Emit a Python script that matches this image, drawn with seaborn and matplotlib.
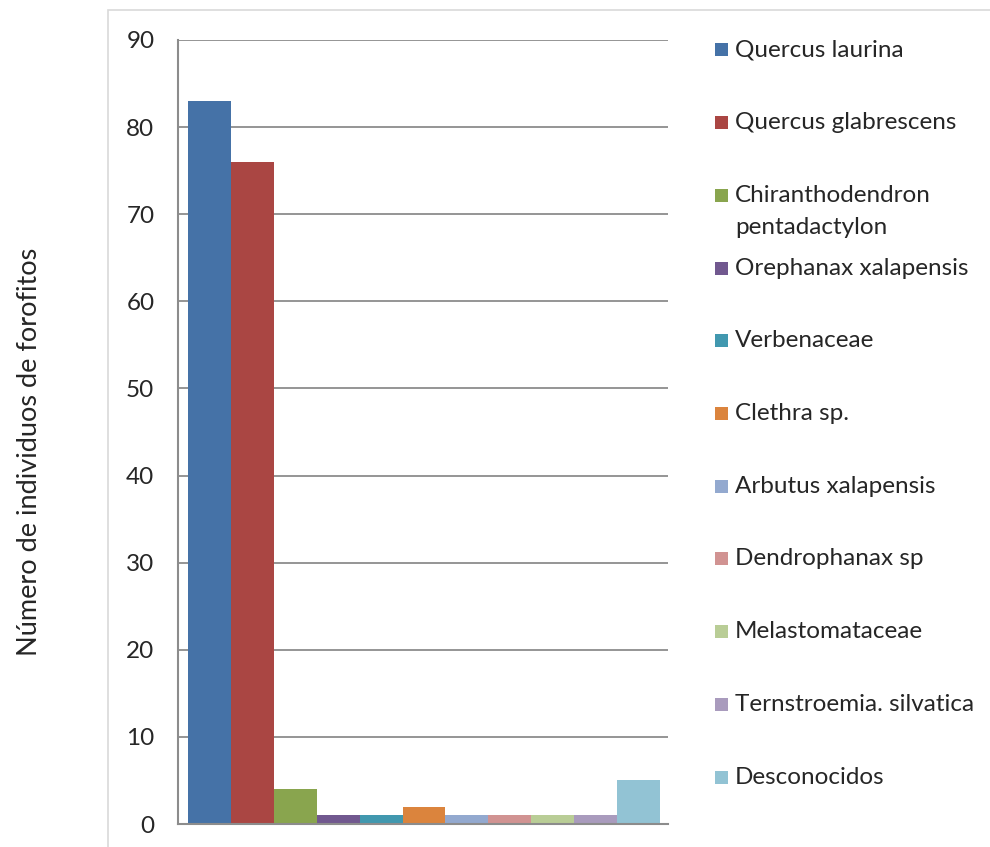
import matplotlib
matplotlib.use("Agg")
import matplotlib.pyplot as plt
from matplotlib.patches import Rectangle
import seaborn as sns

# Forophyte counts per species
species = [
    "Quercus laurina",
    "Quercus glabrescens",
    "Chiranthodendron\npentadactylon",
    "Orephanax xalapensis",
    "Verbenaceae",
    "Clethra sp.",
    "Arbutus xalapensis",
    "Dendrophanax sp",
    "Melastomataceae",
    "Ternstroemia. silvatica",
    "Desconocidos",
]
counts = [83, 76, 4, 1, 1, 2, 1, 1, 1, 1, 5]
colors = [
    "#4572A7", "#AA4643", "#89A54E", "#71588F", "#4198AF", "#DB843D",
    "#93A9CF", "#D19392", "#B9CD96", "#A99BBD", "#92C3D4",
]
yticks = [0, 10, 20, 30, 40, 50, 60, 70, 80, 90]
ylabel = "Número de individuos de forofitos"

sns.set_theme(style="white")
plt.rcParams["font.family"] = ["Lato", "DejaVu Sans"]

W, H = 990, 847
fig = plt.figure(figsize=(W / 100, H / 100), dpi=100)
fig.patch.set_facecolor("white")

# outer chart frame
fig.patches.append(Rectangle((108 / W, -0.05), 1.0, 1.05 - 10 / H, transform=fig.transFigure,
                             fill=False, edgecolor="#d9d9d9", linewidth=1.2))

ax = fig.add_axes([178 / W, 1 - 824 / H, 490 / W, (824 - 40) / H])

order = list(range(len(species)))
sns.barplot(x=order, y=counts, hue=order, palette=colors, width=1.0,
            legend=False, saturation=1.0, ax=ax, native_scale=True, linewidth=0)

ax.set_xlim(-0.5 - 10 / 43, 10.5 + 8 / 43)
ax.set_ylim(0, 90)
ax.set_yticks(yticks)
ax.set_yticklabels([str(t) for t in yticks], fontsize=17.5)
ax.set_xticks([])
ax.set_xlabel("")
ax.set_ylabel("")
ax.tick_params(axis="y", length=0, pad=17)
ax.yaxis.grid(True, color="#8c8c8c", linewidth=1.3)
ax.set_axisbelow(True)
for side in ["top", "right"]:
    ax.spines[side].set_visible(False)
for side in ["left", "bottom"]:
    ax.spines[side].set_color("#8c8c8c")
    ax.spines[side].set_linewidth(1.5)

fig.text(30 / W, 1 - 452 / H, ylabel, rotation=90, ha="center", va="center", fontsize=19.5)

# legend on the right, one entry per species
y0, step = 50, 72.7
for i, (name, col) in enumerate(zip(species, colors)):
    yc = y0 + i * step
    fig.patches.append(Rectangle((715 / W, 1 - (yc + 6.5) / H), 13 / W, 13 / H,
                                 transform=fig.transFigure, facecolor=col,
                                 edgecolor="none"))
    for j, line in enumerate(name.split("\n")):
        fig.text(735 / W, 1 - (yc + 32 * j) / H, line, ha="left", va="center",
                 fontsize=17.5)

fig.savefig("out.png", dpi=100, facecolor="white")
